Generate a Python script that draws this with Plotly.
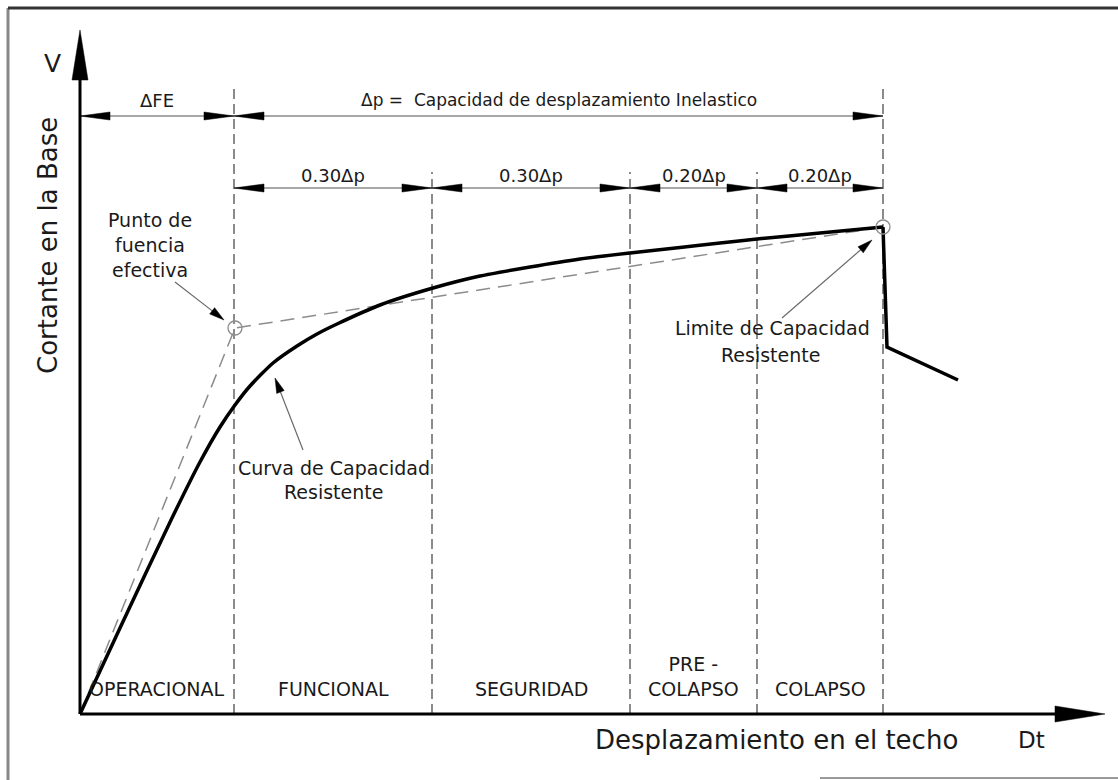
import math
import plotly.graph_objects as go

# ---------------- data ----------------
zone_labels = ["OPERACIONAL", "FUNCIONAL", "SEGURIDAD", "PRE -<br>COLAPSO", "COLAPSO"]
zone_bounds = [0.0, 1.54, 3.52, 5.50, 6.77, 8.03]          # displacement limits
span_labels = ["0.30Δp", "0.30Δp", "0.20Δp", "0.20Δp"]

curve_d = [0.0, 0.40, 0.92, 1.20, 1.40, 1.55, 1.70, 1.93, 2.17, 2.37, 2.57, 3.00,
           3.53, 4.00, 4.50, 5.00, 5.50, 6.00, 6.40, 6.77, 7.40, 8.03]
curve_v = [0.0, 0.86, 1.96, 2.52, 2.87, 3.09, 3.28, 3.51, 3.68, 3.80, 3.90, 4.09,
           4.26, 4.38, 4.47, 4.55, 4.61, 4.665, 4.71, 4.75, 4.81, 4.87]
post_d = [8.03, 8.07, 8.78]
post_v = [4.87, 3.67, 3.34]

bilinear_d = [0.0, 1.55, 8.03]
bilinear_v = [0.0, 3.86, 4.87]

# ---------------- geometry of the canvas ----------------
W, H = 1118, 780
X0, X1 = -0.80, 10.38
Y0, Y1 = -0.66, 7.14
PXX = W / (X1 - X0)
PXY = H / (Y1 - Y0)

FONT = "DejaVu Sans"
TXT = "#1a1a1a"

shapes = []
annotations = []


def head(xt, yt, dxp, dyp, length, hw, color="black"):
    """Filled arrowhead with tip at (xt, yt) pointing along pixel direction (dxp, dyp)."""
    n = math.hypot(dxp, dyp)
    ux, uy = dxp / n, dyp / n
    bx = xt - ux * length / PXX
    by = yt - uy * length / PXY
    px, py = -uy, ux
    x1, y1 = bx + px * hw / PXX, by + py * hw / PXY
    x2, y2 = bx - px * hw / PXX, by - py * hw / PXY
    shapes.append(dict(type="path", xref="x", yref="y",
                       path=f"M {xt},{yt} L {x1},{y1} L {x2},{y2} Z",
                       fillcolor=color, line=dict(color=color, width=0.5),
                       layer="above"))


def seg(xa, ya, xb, yb, color, width, dash=None, layer="above"):
    ln = dict(color=color, width=width)
    if dash:
        ln["dash"] = dash
    shapes.append(dict(type="line", xref="x", yref="y", x0=xa, y0=ya, x1=xb, y1=yb,
                       line=ln, layer=layer))


def text(x, y, s, size, **kw):
    d = dict(x=x, y=y, xref="x", yref="y", text=s, showarrow=False,
             font=dict(family=FONT, size=size, color=TXT))
    d.update(kw)
    annotations.append(d)


fig = go.Figure()

# bilinear idealisation (dashed)
fig.add_trace(go.Scatter(x=bilinear_d, y=bilinear_v, mode="lines",
                         line=dict(color="#8c8c8c", width=1.5, dash="14px,8px"),
                         hoverinfo="skip", showlegend=False))
# capacity curve
fig.add_trace(go.Scatter(x=curve_d, y=curve_v, mode="lines",
                         line=dict(color="black", width=3.5, shape="spline", smoothing=0.6),
                         hoverinfo="skip", showlegend=False))
fig.add_trace(go.Scatter(x=post_d, y=post_v, mode="lines",
                         line=dict(color="black", width=3.5),
                         hoverinfo="skip", showlegend=False))
# yield point and capacity limit markers
fig.add_trace(go.Scatter(x=[bilinear_d[1], bilinear_d[2]], y=[bilinear_v[1], bilinear_v[2]],
                         mode="markers",
                         marker=dict(symbol="circle-open", size=14, color="#8c8c8c",
                                     line=dict(width=1.3)),
                         hoverinfo="skip", showlegend=False))

# ---------------- zone limits (vertical dashed lines) ----------------
row1_y = 5.98
row2_y = 5.26
for i, b in enumerate(zone_bounds[1:]):
    top = 6.26 if i in (0, len(zone_bounds) - 2) else 5.42
    seg(b, 0, b, top, "#6e6e6e", 1.6, dash="10px,5px", layer="below")

# ---------------- dimension lines ----------------
def dim(a, b, y, label, size, dy):
    seg(a, y, b, y, "#8a8a8a", 1.5)
    head(a, y, -1, 0, 30, 4)
    head(b, y, 1, 0, 30, 4)
    text((a + b) / 2, y + dy, label, size)

dim(zone_bounds[0], zone_bounds[1], row1_y, "ΔFE", 18, 0.16)
dim(zone_bounds[1], zone_bounds[-1], row1_y, "Δp =  Capacidad de desplazamiento Inelastico", 17, 0.16)
for i, lab in enumerate(span_labels):
    dim(zone_bounds[i + 1], zone_bounds[i + 2], row2_y, lab, 18, 0.13)

# ---------------- zone names ----------------
for i, lab in enumerate(zone_labels):
    text((zone_bounds[i] + zone_bounds[i + 1]) / 2, 0.12, lab, 19, yanchor="bottom")

# ---------------- axes with arrows ----------------
y_tip = 6.84
x_tip = 10.25
seg(0, 0, 0, y_tip - 40 / PXY, "black", 3)
head(0, y_tip, 0, 1, 50, 8)
seg(0, 0, x_tip - 40 / PXX, 0, "black", 3)
head(x_tip, 0, 1, 0, 50, 8)

text(-0.28, 6.51, "V", 25)
text(-0.32, 4.68, "Cortante en la Base", 26, textangle=-90)
text(6.96, -0.26, "Desplazamiento en el techo", 26)
text(9.51, -0.26, "Dt", 23)

# ---------------- call-outs ----------------
def pointer(xa, ya, xb, yb):
    dxp = (xb - xa) * PXX
    dyp = (yb - ya) * PXY
    n = math.hypot(dxp, dyp)
    seg(xa, ya, xb - dxp / n * 10 / PXX, yb - dyp / n * 10 / PXY, "#6a6a6a", 1.2)
    head(xb, yb, dxp, dyp, 15, 4)

# effective yield point
text(0.70, 4.94, "Punto de", 19)
text(0.70, 4.69, "fuencia", 19)
text(0.70, 4.44, "efectiva", 19)
pointer(0.95, 4.32, bilinear_d[1] - 0.11, bilinear_v[1] + 0.08)

# capacity curve
text(2.54, 2.46, "Curva de Capacidad", 19)
text(2.53, 2.22, "Resistente", 19)
pointer(2.23, 2.64, 1.95, 3.36)

# capacity limit
text(6.92, 3.86, "Limite de Capacidad", 19)
text(6.90, 3.59, "Resistente", 19)
pointer(7.02, 3.96, bilinear_d[2] - 0.11, bilinear_v[2] - 0.13)

# ---------------- outer frame ----------------
shapes.append(dict(type="line", xref="paper", yref="paper", x0=8 / W, y0=0, x1=8 / W, y1=1 - 8 / H,
                   line=dict(color="#888888", width=3)))
shapes.append(dict(type="line", xref="paper", yref="paper", x0=8 / W, y0=1 - 8 / H, x1=1, y1=1 - 8 / H,
                   line=dict(color="#333333", width=3)))
shapes.append(dict(type="line", xref="paper", yref="paper", x0=820 / W, y0=2 / H, x1=1, y1=2 / H,
                   line=dict(color="#9a9a9a", width=2)))

fig.update_layout(
    width=W, height=H, autosize=False,
    margin=dict(l=0, r=0, t=0, b=0, pad=0),
    paper_bgcolor="white", plot_bgcolor="white",
    xaxis=dict(range=[X0, X1], visible=False, fixedrange=True),
    yaxis=dict(range=[Y0, Y1], visible=False, fixedrange=True),
    shapes=shapes, annotations=annotations, showlegend=False,
)

fig.write_html("out.html",
               config={"displayModeBar": False},
               post_script="document.body.style.margin='0px';"
                           "document.body.style.overflow='hidden';")
